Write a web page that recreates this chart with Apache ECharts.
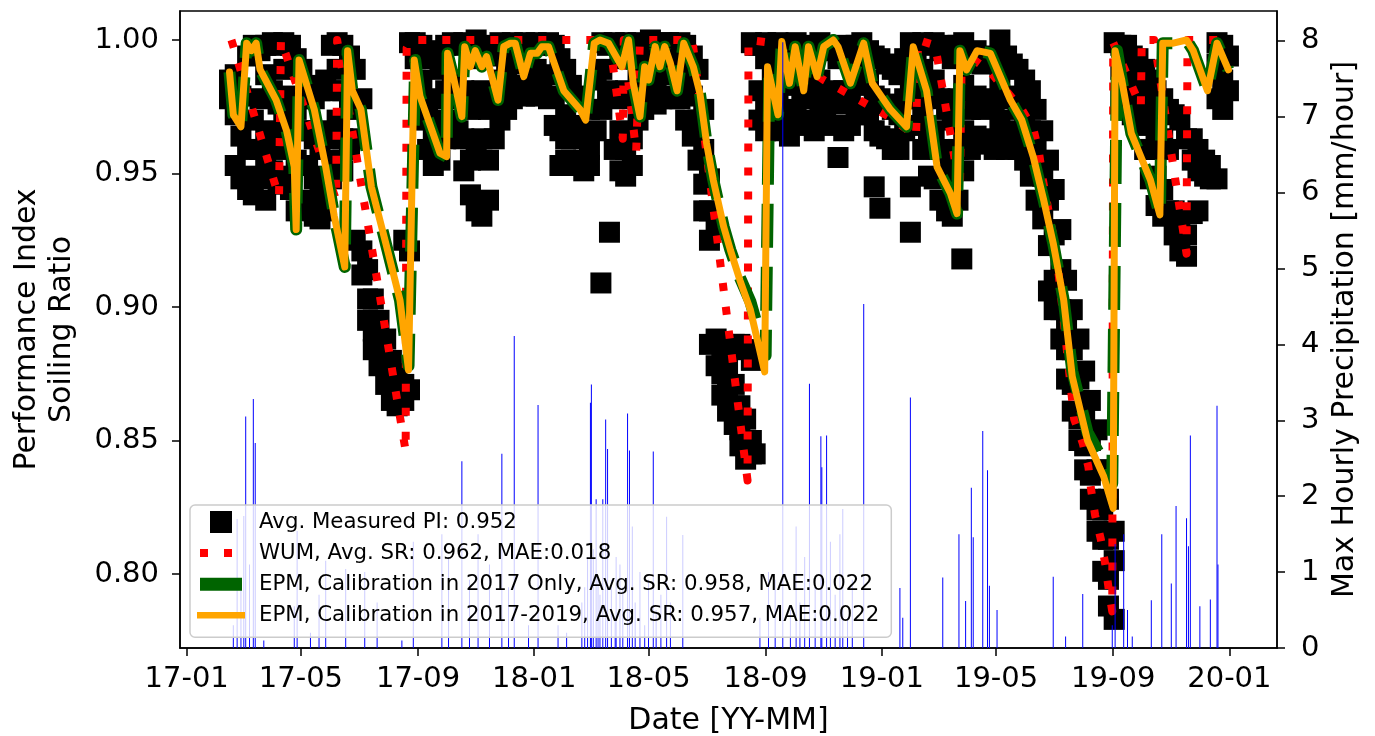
<!DOCTYPE html>
<html><head><meta charset="utf-8">
<script src="https://cdn.jsdelivr.net/npm/echarts@6/dist/echarts.min.js"></script>
<style>html,body{margin:0;padding:0;background:#fff}#c{width:1375px;height:736px}</style>
</head><body><div id="c"></div>
<script>
// ---------- data ----------
const xTickLabels = ['17-01','17-05','17-09','18-01','18-05','18-09','19-01','19-05','19-09','20-01'];
const leftTickLabels = ['0.80','0.85','0.90','0.95','1.00'];
const rightTickLabels = ['0','1','2','3','4','5','6','7','8'];

const seriesNames = [
  'Avg. Measured PI: 0.952',
  'WUM, Avg. SR: 0.962, MAE:0.018',
  'EPM, Calibration in 2017 Only, Avg. SR: 0.958, MAE:0.022',
  'EPM, Calibration in 2017-2019, Avg. SR: 0.957, MAE:0.022'
];

// measured PI: [date, [values on that date]]
const measuredPI = [
['2017-02-15',[0.985,0.978]],['2017-02-21',[0.987,0.972,0.953]],['2017-02-27',[0.979,0.964,0.948]],
['2017-03-06',[0.994,0.959,0.944]],['2017-03-12',[0.998,0.970,0.949,0.942]],['2017-03-19',[0.996,0.978,0.959,0.948]],
['2017-03-25',[0.998,0.987,0.966,0.953,0.940]],['2017-04-01',[0.999,0.981,0.963,0.951]],['2017-04-07',[0.998,0.976,0.959,0.946]],
['2017-04-13',[0.999,0.989,0.970,0.949]],['2017-04-20',[0.998,0.979,0.963,0.944]],['2017-04-26',[0.993,0.974,0.955,0.936]],
['2017-05-02',[0.989,0.978,0.966]],['2017-05-08',[0.983,0.966,0.953,0.940]],['2017-05-15',[0.978,0.963,0.948,0.934]],
['2017-05-21',[0.981,0.959,0.942,0.933]],['2017-05-27',[0.985,0.966,0.949,0.936]],['2017-06-02',[0.998,0.981,0.963,0.948]],
['2017-06-08',[0.999,0.989,0.970,0.955]],['2017-06-14',[0.998,0.981,0.963,0.951]],['2017-06-21',[0.994,0.974,0.959]],
['2017-06-27',[0.989,0.963,0.925]],['2017-07-04',[0.978,0.921,0.912]],['2017-07-10',[0.914,0.903,0.895]],
['2017-07-16',[0.903,0.891,0.884]],['2017-07-22',[0.895,0.886,0.878]],['2017-07-29',[0.888,0.878,0.871]],
['2017-08-04',[0.880,0.871,0.865]],['2017-08-10',[0.875,0.867,0.863]],['2017-08-17',[0.925,0.871,0.865]],
['2017-08-23',[0.999,0.921,0.869]],['2017-08-29',[0.999,0.993]],['2017-09-05',[0.998,0.985,0.970]],
['2017-09-11',[0.993,0.974,0.959]],['2017-09-17',[0.996,0.978,0.963,0.953]],['2017-09-24',[0.989,0.970,0.955]],
['2017-09-30',[0.998,0.981,0.963]],['2017-10-07',[0.999,0.985,0.970]],['2017-10-13',[0.998,0.978,0.966]],
['2017-10-19',[0.999,0.981,0.963,0.951]],['2017-10-26',[0.993,0.974,0.955,0.942]],['2017-11-01',[1.000,0.978,0.959,0.936]],
['2017-11-07',[0.998,0.981,0.963,0.934]],['2017-11-14',[0.994,0.974,0.955,0.940]],['2017-11-20',[0.996,0.978,0.963]],
['2017-11-26',[0.999,0.985,0.970]],['2017-12-03',[0.998,0.987,0.974]],['2017-12-09',[0.999,0.991,0.978]],
['2017-12-15',[0.998,0.983]],['2017-12-22',[0.999,0.993,0.979]],['2017-12-28',[0.998,0.985]],
['2018-01-03',[0.999,0.989,0.979]],['2018-01-09',[0.998,0.983]],['2018-01-16',[0.999,0.987,0.978]],
['2018-01-22',[0.998,0.979,0.968]],['2018-01-28',[0.993,0.966,0.953]],['2018-02-03',[0.989,0.972,0.963,0.955]],
['2018-02-09',[0.983,0.968,0.955]],['2018-02-16',[0.979,0.966,0.953]],['2018-02-22',[0.978,0.963,0.951]],
['2018-02-28',[0.974,0.959,0.953]],['2018-03-07',[0.985,0.966]],['2018-03-12',[0.909]],['2018-03-13',[0.999,0.989,0.974]],
['2018-03-19',[0.998,0.981]],['2018-03-21',[0.928]],['2018-03-26',[0.999,0.978,0.959]],['2018-04-01',[0.993,0.966,0.951]],
['2018-04-07',[0.999,0.981,0.959,0.949]],['2018-04-14',[0.998,0.978,0.963,0.953]],['2018-04-20',[0.999,0.985,0.970]],
['2018-04-26',[0.996,0.989,0.974]],['2018-05-03',[1.000,0.991,0.978]],['2018-05-09',[0.998,0.985,0.976]],
['2018-05-15',[0.999,0.989,0.978]],['2018-05-22',[0.999,0.993,0.979]],['2018-05-28',[0.998,0.987,0.978]],
['2018-06-03',[0.999,0.989,0.978]],['2018-06-09',[0.998,0.985,0.970]],['2018-06-16',[0.994,0.979,0.964]],
['2018-06-22',[0.989,0.970,0.955]],['2018-06-28',[0.974,0.959,0.946,0.936]],['2018-07-04',[0.948,0.936,0.925,0.886]],
['2018-07-11',[0.929,0.888,0.878]],['2018-07-17',[0.884,0.875,0.867]],['2018-07-23',[0.878,0.869,0.861]],
['2018-07-30',[0.871,0.863,0.856,0.886]],['2018-08-05',[0.886,0.863,0.854,0.848]],['2018-08-11',[0.884,0.858,0.848,0.843]],
['2018-08-17',[0.999,0.880,0.850,0.845]],['2018-08-21',[0.998,0.884,0.845]],['2018-08-25',[0.998,0.981,0.970]],
['2018-09-01',[0.999,0.993,0.974,0.966]],['2018-09-08',[0.998,0.987,0.976]],['2018-09-14',[0.999,0.991,0.978,0.966]],
['2018-09-20',[0.996,0.983,0.970]],['2018-09-26',[0.998,0.989,0.974,0.964]],['2018-10-03',[0.999,0.985,0.972]],
['2018-10-09',[0.994,0.979,0.968]],['2018-10-15',[0.998,0.983,0.970]],['2018-10-22',[0.996,0.978,0.966]],
['2018-10-28',[0.999,0.985,0.972]],['2018-11-03',[0.998,0.979,0.970]],['2018-11-10',[0.996,0.981,0.968]],
['2018-11-16',[0.993,0.976,0.956]],['2018-11-22',[0.998,0.981,0.966]],['2018-11-29',[0.994,0.979,0.968]],
['2018-12-05',[0.998,0.983,0.972]],['2018-12-11',[0.999,0.989,0.974]],['2018-12-18',[0.996,0.985,0.972]],
['2018-12-24',[0.994,0.979,0.966,0.945]],['2018-12-30',[0.993,0.978,0.964,0.937]],['2019-01-06',[0.991,0.976,0.963]],
['2019-01-12',[0.989,0.974,0.959]],['2019-01-19',[0.987,0.972,0.959]],['2019-01-25',[0.993,0.978,0.966]],
['2019-01-31',[0.999,0.983,0.945,0.928]],['2019-02-06',[0.996,0.978,0.968]],['2019-02-13',[0.999,0.989,0.974,0.959]],
['2019-02-19',[0.998,0.981,0.963,0.949]],['2019-02-25',[0.999,0.985,0.966,0.948]],['2019-03-03',[0.996,0.978,0.959,0.940]],
['2019-03-10',[0.998,0.974,0.955,0.936]],['2019-03-16',[0.993,0.970,0.949,0.934]],['2019-03-22',[0.998,0.978,0.959,0.940]],
['2019-03-26',[0.918]],['2019-03-28',[0.999,0.983,0.966,0.951]],['2019-04-04',[0.993,0.974,0.959]],
['2019-04-10',[0.996,0.979,0.964]],['2019-04-16',[0.991,0.974,0.961]],['2019-04-23',[0.994,0.978,0.963]],
['2019-04-29',[0.993,0.976,0.959]],['2019-05-05',[1.000,0.985,0.970]],['2019-05-12',[0.994,0.979,0.966,0.959]],
['2019-05-18',[0.991,0.978,0.963]],['2019-05-24',[0.989,0.974,0.959]],['2019-05-31',[0.985,0.970,0.955]],
['2019-06-06',[0.981,0.966,0.949]],['2019-06-12',[0.974,0.959,0.940]],['2019-06-19',[0.966,0.949,0.933]],
['2019-06-25',[0.955,0.940,0.923,0.906]],['2019-07-01',[0.944,0.927,0.910,0.899]],['2019-07-08',[0.929,0.914,0.899,0.888]],
['2019-07-14',[0.910,0.895,0.884,0.873]],['2019-07-20',[0.899,0.884,0.871,0.861]],['2019-07-27',[0.888,0.873,0.858,0.850]],
['2019-08-02',[0.876,0.861,0.848,0.839]],['2019-08-08',[0.865,0.850,0.837,0.828]],['2019-08-15',[0.854,0.839,0.824,0.816]],
['2019-08-21',[0.839,0.824,0.813,0.801]],['2019-08-27',[0.828,0.813,0.798,0.788]],['2019-09-02',[0.999,0.816,0.805,0.783]],
['2019-09-09',[0.998,0.989,0.978]],['2019-09-15',[0.998,0.989,0.978]],['2019-09-21',[0.994,0.983,0.972]],
['2019-09-27',[0.993,0.979,0.970]],['2019-10-04',[0.989,0.976,0.968,0.959]],['2019-10-10',[0.985,0.972,0.959,0.948]],
['2019-10-16',[0.981,0.966,0.949,0.938]],['2019-10-23',[0.978,0.963,0.944,0.934]],['2019-10-29',[0.974,0.959,0.936]],
['2019-11-04',[0.972,0.936,0.927]],['2019-11-10',[0.970,0.933,0.921]],['2019-11-17',[0.963,0.927,0.919]],
['2019-11-23',[0.963,0.955,0.935]],['2019-11-29',[0.959,0.951,0.936]],['2019-12-06',[0.955,0.949]],
['2019-12-12',[0.953,0.948]],['2019-12-19',[0.999,0.991,0.978,0.948]],['2019-12-25',[0.998,0.985,0.974]],
['2019-12-31',[0.994,0.981]]
];

const wumSR = [
['2017-02-17',1.000],['2017-04-08',0.941],['2017-04-10',1.000],['2017-06-07',0.940],['2017-06-08',1.000],
['2017-08-19',0.846],['2017-08-20',0.997],['2017-08-25',1.000],['2018-03-21',1.000],['2018-04-04',0.963],
['2018-04-05',1.000],['2018-04-18',0.958],['2018-04-22',1.000],['2018-06-16',1.000],['2018-08-13',0.835],
['2018-08-14',1.000],['2018-09-05',0.999],['2018-11-01',0.985],['2019-01-10',0.971],['2019-02-06',0.964],
['2019-02-08',1.000],['2019-02-26',0.998],['2019-03-24',0.944],['2019-03-26',0.996],['2019-04-25',0.988],
['2019-05-28',0.974],['2019-06-09',0.967],['2019-06-15',0.958],['2019-06-19',0.948],['2019-06-23',0.940],
['2019-07-03',0.921],['2019-07-11',0.895],['2019-07-22',0.858],['2019-07-31',0.849],['2019-08-06',0.840],
['2019-08-09',0.831],['2019-08-13',0.822],['2019-08-19',0.813],['2019-08-24',0.803],['2019-08-27',0.795],
['2019-08-31',0.786],['2019-09-01',0.999],['2019-09-30',0.975],['2019-10-01',1.000],['2019-10-14',1.000],
['2019-11-17',0.920],['2019-11-18',1.000],['2019-12-31',1.000]
];

const epm2017 = [
['2017-02-15',0.988],['2017-02-19',0.972],['2017-02-27',0.9675],['2017-03-05',0.9988],['2017-03-10',0.996],
['2017-03-15',0.9988],['2017-03-19',0.989],['2017-04-05',0.9775],['2017-04-16',0.966],['2017-04-24',0.9525],
['2017-04-26',0.929],['2017-04-29',0.9925],['2017-05-15',0.974],['2017-05-27',0.9525],['2017-06-05',0.934],
['2017-06-16',0.915],['2017-06-19',0.996],['2017-06-24',0.981],['2017-07-03',0.974],['2017-07-14',0.945],
['2017-07-30',0.9226],['2017-08-13',0.9026],['2017-08-22',0.878],['2017-08-29',0.9925],['2017-09-03',0.979],
['2017-09-24',0.9576],['2017-10-01',0.9563],['2017-10-02',0.995],['2017-10-08',0.9863],['2017-10-17',0.9713],
['2017-10-20',0.9975],['2017-10-26',0.990],['2017-10-31',0.996],['2017-11-07',0.990],['2017-11-12',0.9938],
['2017-11-24',0.9775],['2017-11-30',0.9975],['2017-12-07',0.9988],['2017-12-12',0.9988],['2017-12-21',0.9863],
['2017-12-28',0.995],['2018-01-04',0.995],['2018-01-09',0.9975],['2018-01-16',0.9975],['2018-02-01',0.981],
['2018-02-18',0.974],['2018-02-24',0.970],['2018-03-05',0.9988],['2018-03-11',1.000],['2018-03-20',0.9988],
['2018-04-03',0.990],['2018-04-10',1.000],['2018-04-15',0.9838],['2018-04-22',0.9713],['2018-04-27',0.990],
['2018-05-01',0.985],['2018-05-08',0.9975],['2018-05-13',0.990],['2018-05-18',0.9975],['2018-05-24',0.9913],
['2018-05-31',0.981],['2018-06-07',0.9988],['2018-06-17',0.990],['2018-06-24',0.980],['2018-07-01',0.9613],
['2018-07-08',0.9476],['2018-07-19',0.930],['2018-07-26',0.9213],['2018-08-05',0.911],['2018-08-16',0.902],
['2018-09-01',0.882],['2018-09-05',0.990],['2018-09-14',0.972],['2018-09-18',0.9994],['2018-09-26',0.9838],
['2018-10-02',0.9975],['2018-10-11',0.981],['2018-10-16',0.9975],['2018-10-25',0.9863],['2018-11-01',0.9975],
['2018-11-11',1.000],['2018-11-16',0.9975],['2018-11-29',0.9838],['2018-12-13',0.9988],['2018-12-22',0.9838],
['2019-01-10',0.974],['2019-01-27',0.9675],['2019-02-03',0.9975],['2019-02-17',0.981],['2019-02-28',0.9525],
['2019-03-14',0.9426],['2019-03-21',0.935],['2019-03-24',0.996],['2019-03-31',0.9888],['2019-04-11',0.996],
['2019-04-25',0.995],['2019-05-16',0.9775],['2019-05-28',0.970],['2019-06-09',0.9563],['2019-06-20',0.940],
['2019-06-30',0.9239],['2019-07-11',0.9026],['2019-07-20',0.876],['2019-08-05',0.853],['2019-08-22',0.842],
['2019-08-31',0.834],['2019-09-05',0.996],['2019-09-10',0.985],['2019-09-20',0.965],['2019-10-10',0.9476],
['2019-10-20',0.9345],['2019-10-23',0.9988],['2019-11-03',0.9988],['2019-11-17',1.000],['2019-11-24',0.996],
['2019-12-09',0.981],['2019-12-19',0.9988],['2019-12-31',0.9888]
];

const epm2017to2019 = [
['2017-02-15',0.988],['2017-02-19',0.972],['2017-02-27',0.9675],['2017-03-05',0.9988],['2017-03-10',0.996],
['2017-03-15',0.9988],['2017-03-19',0.989],['2017-04-05',0.9775],['2017-04-16',0.966],['2017-04-24',0.9525],
['2017-04-26',0.929],['2017-04-29',0.9925],['2017-05-15',0.974],['2017-05-27',0.9525],['2017-06-05',0.934],
['2017-06-16',0.915],['2017-06-19',0.996],['2017-06-24',0.981],['2017-07-03',0.974],['2017-07-14',0.945],
['2017-07-30',0.9226],['2017-08-13',0.9026],['2017-08-22',0.8764],['2017-08-28',0.9925],['2017-09-03',0.979],
['2017-09-24',0.9576],['2017-10-01',0.9563],['2017-10-02',0.995],['2017-10-08',0.9863],['2017-10-17',0.9713],
['2017-10-20',0.9975],['2017-10-26',0.990],['2017-10-31',0.996],['2017-11-07',0.990],['2017-11-12',0.9938],
['2017-11-24',0.9775],['2017-11-30',0.9975],['2017-12-07',0.9988],['2017-12-12',0.9988],['2017-12-21',0.9863],
['2017-12-28',0.995],['2018-01-04',0.995],['2018-01-09',0.9975],['2018-01-16',0.9975],['2018-02-01',0.981],
['2018-02-18',0.974],['2018-02-24',0.970],['2018-03-05',0.9988],['2018-03-11',1.000],['2018-03-20',0.9988],
['2018-04-03',0.990],['2018-04-10',1.000],['2018-04-15',0.9838],['2018-04-22',0.9713],['2018-04-27',0.990],
['2018-05-01',0.985],['2018-05-08',0.9975],['2018-05-13',0.990],['2018-05-18',0.9975],['2018-05-24',0.9913],
['2018-05-31',0.981],['2018-06-07',0.9988],['2018-06-17',0.990],['2018-06-24',0.980],['2018-07-01',0.9613],
['2018-07-08',0.9476],['2018-07-19',0.930],['2018-07-26',0.9213],['2018-08-05',0.910],['2018-08-16',0.8989],
['2018-08-31',0.8757],['2018-09-03',0.990],['2018-09-14',0.972],['2018-09-18',0.9994],['2018-09-26',0.9838],
['2018-10-02',0.9975],['2018-10-11',0.981],['2018-10-16',0.9975],['2018-10-25',0.9863],['2018-11-01',0.9975],
['2018-11-11',1.000],['2018-11-16',0.9975],['2018-11-29',0.9838],['2018-12-13',0.9988],['2018-12-22',0.9838],
['2019-01-10',0.974],['2019-01-27',0.9675],['2019-02-03',0.9975],['2019-02-17',0.981],['2019-02-28',0.9525],
['2019-03-14',0.9426],['2019-03-21',0.935],['2019-03-24',0.996],['2019-03-31',0.9888],['2019-04-11',0.996],
['2019-04-25',0.995],['2019-05-16',0.9775],['2019-05-28',0.970],['2019-06-09',0.9563],['2019-06-20',0.940],
['2019-06-30',0.9239],['2019-07-11',0.9026],['2019-07-20',0.8739],['2019-08-05',0.850],['2019-08-22',0.8365],
['2019-09-01',0.8246],['2019-09-03',0.996],['2019-09-10',0.985],['2019-09-20',0.965],['2019-10-10',0.9476],
['2019-10-20',0.9345],['2019-10-23',0.9988],['2019-11-03',0.9988],['2019-11-17',1.000],['2019-11-24',0.996],
['2019-12-09',0.981],['2019-12-19',0.9988],['2019-12-31',0.9888]
];

const precipitation = [
['2017-02-19',0.3],['2017-02-23',1.7],['2017-02-27',0.9],['2017-03-02',1.74],['2017-03-04',3.05],['2017-03-08',1.1],
['2017-03-12',3.28],['2017-03-14',2.7],['2017-03-23',0.1],['2017-04-24',0.55],['2017-04-27',1.54],['2017-05-11',0.2],
['2017-05-20',0.7],['2017-05-27',1.15],['2017-06-17',1.04],['2017-07-07',1.0],['2017-07-20',0.6],['2017-08-15',0.1],
['2017-08-27',1.4],['2017-09-26',1.5],['2017-10-03',1.2],['2017-10-17',2.46],['2017-10-25',0.9],['2017-11-03',1.5],
['2017-11-15',1.1],['2017-11-28',2.56],['2017-12-05',0.8],['2017-12-11',4.11],['2017-12-26',0.3],['2018-01-05',3.2],
['2018-01-26',0.3],['2018-02-04',0.2],['2018-02-20',0.6],['2018-02-23',0.8],['2018-02-26',1.2],['2018-03-01',3.23],
['2018-03-02',3.47],['2018-03-04',1.3],['2018-03-07',1.96],['2018-03-09',0.9],['2018-03-11',0.7],['2018-03-14',1.96],
['2018-03-17',3.01],['2018-03-19',2.62],['2018-03-23',0.9],['2018-03-27',0.4],['2018-03-28',1.2],['2018-04-01',1.1],
['2018-04-04',0.8],['2018-04-09',3.09],['2018-04-11',2.6],['2018-04-14',1.6],['2018-04-17',0.6],['2018-04-22',1.0],
['2018-04-27',0.3],['2018-05-01',0.9],['2018-05-06',2.59],['2018-05-09',0.5],['2018-05-14',0.7],['2018-05-20',1.73],
['2018-05-24',0.6],['2018-06-06',1.49],['2018-08-26',0.4],['2018-09-04',1.0],['2018-09-11',0.9],['2018-09-19',7.98],
['2018-09-27',0.5],['2018-10-03',1.6],['2018-10-07',0.6],['2018-10-12',1.2],['2018-10-17',3.48],['2018-10-23',0.8],
['2018-10-29',2.79],['2018-10-30',2.38],['2018-11-04',2.8],['2018-11-08',1.4],['2018-11-13',0.7],['2018-11-18',1.5],
['2018-11-21',1.83],['2018-11-26',0.4],['2018-12-01',0.9],['2018-12-13',4.53],['2019-01-20',0.79],['2019-01-23',0.4],
['2019-01-31',3.3],['2019-03-06',0.93],['2019-03-23',1.5],['2019-03-30',0.62],['2019-04-05',2.11],['2019-04-07',1.46],
['2019-04-17',2.86],['2019-04-22',2.34],['2019-04-24',0.82],['2019-05-02',0.5],['2019-06-30',0.94],['2019-07-13',0.15],
['2019-07-31',0.71],['2019-08-31',0.3],['2019-09-03',1.37],['2019-09-12',1.5],['2019-09-16',0.5],['2019-09-21',0.15],
['2019-10-11',0.63],['2019-10-22',1.5],['2019-11-01',0.85],['2019-11-06',1.87],['2019-11-17',1.71],['2019-11-19',1.34],
['2019-11-21',2.8],['2019-12-01',0.55],['2019-12-12',0.64],['2019-12-19',3.19],['2019-12-20',1.1]
];

// ---------- chart ----------
function ts(s){const p=s.split('-').map(Number);return Date.UTC(p[0],p[1]-1,p[2]);}
const xTickVals = xTickLabels.map(l => Date.UTC(2000 + Number(l.slice(0,2)), Number(l.slice(3)) - 1, 1));
const leftTickVals = leftTickLabels.map(Number);
const rightTickVals = rightTickLabels.map(Number);

const measuredData = [];
measuredPI.forEach(([d, vals]) => vals.forEach(v => measuredData.push([ts(d), v])));
const toXY = arr => arr.map(([d, v]) => [ts(d), v]);

const FONT = 'DejaVu Sans';
const axisLineStyle = {color:'#000', width:1.5};

const chart = echarts.init(document.getElementById('c'), null, {renderer:'canvas'});
chart.setOption({
  animation:false,
  backgroundColor:'#fff',
  grid:{left:180, right:98, top:11, bottom:88, containLabel:false, outerBoundsMode:'none',
        show:true, borderColor:'#000', borderWidth:1.5, backgroundColor:'transparent'},
  legend:{
    left:190, top:505, orient:'vertical',
    itemWidth:57, itemHeight:22, itemGap:9.1,
    padding:[6,12,11,7],
    backgroundColor:'rgba(255,255,255,0.8)', borderColor:'#cccccc', borderWidth:1.5, borderRadius:5,
    selectedMode:false, z:10,
    textStyle:{fontSize:21.3, fontFamily:FONT, color:'#000', lineHeight:22},
    data:[
      {name:seriesNames[0], icon:'path://M0,0M57,22M13,0H35V22H13Z', itemStyle:{color:'#000', borderWidth:0}},
      {name:seriesNames[1], icon:'path://M0,0M57,22M3,7H11V15H3ZM27,7H35V15H27Z', itemStyle:{color:'#ff0000', borderWidth:0}},
      {name:seriesNames[2], icon:'path://M0,0M57,22M3,4.5H45V17.5H3Z', itemStyle:{color:'#006400', borderWidth:0}},
      {name:seriesNames[3], icon:'path://M0,0M57,22M0,7.7H48V14.3H0Z', itemStyle:{color:'#ffa500', borderWidth:0}}
    ]
  },
  xAxis:{
    type:'value', min:ts('2016-12-25'), max:ts('2020-02-20'),
    axisLine:{show:true, lineStyle:axisLineStyle},
    axisTick:{show:true, customValues:xTickVals, length:8, lineStyle:axisLineStyle},
    axisLabel:{customValues:xTickVals, fontSize:29, fontFamily:FONT, color:'#000', margin:17, hideOverlap:false,
      formatter:v => { const i = xTickVals.indexOf(v); return i >= 0 ? xTickLabels[i] : ''; }},
    splitLine:{show:false},
    name:'Date [YY-MM]', nameLocation:'middle', nameGap:58,
    nameTextStyle:{fontSize:30, fontFamily:FONT, color:'#000'}
  },
  yAxis:[
    {
      type:'value', position:'left', min:0.77228, max:1.01086,
      axisLine:{show:true, lineStyle:axisLineStyle},
      axisTick:{show:true, customValues:leftTickVals, length:8, lineStyle:axisLineStyle},
      axisLabel:{customValues:leftTickVals, fontSize:29, fontFamily:FONT, color:'#000', margin:21,
        formatter:v => Number(v).toFixed(2)},
      splitLine:{show:false},
      name:'Performance Index\nSoiling Ratio', nameLocation:'middle', nameRotate:90, nameGap:100,
      nameTextStyle:{fontSize:30, lineHeight:35, fontFamily:FONT, color:'#000', align:'center'}
    },
    {
      type:'value', position:'right', min:0, max:8.391,
      axisLine:{show:true, lineStyle:axisLineStyle},
      axisTick:{show:true, customValues:rightTickVals, length:8, lineStyle:axisLineStyle},
      axisLabel:{customValues:rightTickVals, fontSize:29, fontFamily:FONT, color:'#000', margin:24,
        formatter:v => String(v)},
      splitLine:{show:false},
      name:'Max Hourly Precipitation [mm/hour]', nameLocation:'middle', nameRotate:90, nameGap:52,
      nameTextStyle:{fontSize:30, fontFamily:FONT, color:'#000'}
    }
  ],
  series:[
    {
      name:seriesNames[0], type:'scatter', symbol:'rect', symbolSize:21,
      itemStyle:{color:'#000', opacity:1}, data:measuredData, z:1, silent:true
    },
    {
      name:seriesNames[1], type:'line', showSymbol:false, symbol:'none', color:'#ff0000',
      lineStyle:{color:'#ff0000', width:8, type:[8,16], cap:'butt', join:'round'},
      data:toXY(wumSR), z:2, silent:true
    },
    {
      name:seriesNames[2], type:'line', showSymbol:false, symbol:'none', color:'#006400',
      lineStyle:{color:'#006400', width:12, type:[44,19], cap:'butt', join:'round'},
      data:toXY(epm2017), z:3, silent:true
    },
    {
      name:seriesNames[3], type:'line', showSymbol:false, symbol:'none', color:'#ffa500',
      lineStyle:{color:'#ffa500', width:7, cap:'round', join:'round'},
      data:toXY(epm2017to2019), z:4, silent:true
    },
    {
      name:'precip', type:'bar', yAxisIndex:1, barWidth:1,
      itemStyle:{color:'#0000ff'}, data:toXY(precipitation), z:5, silent:true
    }
  ]
});
</script></body></html>
